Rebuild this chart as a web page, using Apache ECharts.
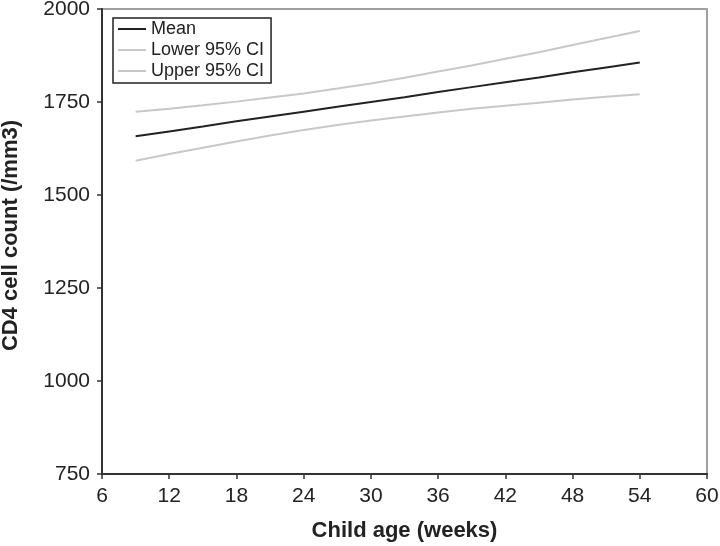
<!DOCTYPE html>
<html>
<head>
<meta charset="utf-8">
<script src="https://cdn.jsdelivr.net/npm/echarts@6/dist/echarts.min.js"></script>
<style>
  html, body { margin: 0; padding: 0; background: #fff; }
  #main { width: 720px; height: 546px; }
</style>
</head>
<body>
<div id="main"></div>
<script>
// child age in weeks
var weeks = [9, 12, 15, 18, 21, 24, 27, 30, 33, 36, 39, 42, 45, 48, 51, 54];
var meanVals  = [1658, 1671, 1684, 1698, 1711, 1724, 1737, 1750, 1763, 1777, 1790, 1803, 1816, 1830, 1843, 1856];
var lowerVals = [1592, 1610, 1627, 1644, 1660, 1675, 1688, 1700, 1711, 1722, 1732, 1740, 1748, 1757, 1764, 1771];
var upperVals = [1724, 1732, 1741, 1751, 1762, 1773, 1786, 1800, 1815, 1832, 1848, 1866, 1884, 1903, 1922, 1941];
var seriesNames = ['Mean', 'Lower 95% CI', 'Upper 95% CI'];

var font = '"Liberation Sans", Arial, Helvetica, sans-serif';

function pairs(vals) {
    return weeks.map(function (w, i) { return [w, vals[i]]; });
}

// plain numbers, no thousands separator
function plain(v) { return String(v); }

var chart = echarts.init(document.getElementById('main'));

var option = {
    animation: false,
    backgroundColor: '#fff',
    textStyle: { fontFamily: font },
    grid: {
        left: 102, right: 13, top: 9, bottom: 72,
        outerBoundsMode: 'none',
        containLabel: false,
        show: true,
        borderColor: '#a0a0a0',
        borderWidth: 2
    },
    legend: {
        orient: 'vertical',
        left: 113,
        top: 18,
        data: seriesNames,
        icon: 'rect',
        borderColor: '#222',
        borderWidth: 1.5,
        padding: [2, 7, 3, 5],
        itemWidth: 28,
        itemHeight: 2,
        itemGap: 3,
        textStyle: { fontSize: 18, color: '#222', fontFamily: font }
    },
    xAxis: {
        type: 'value',
        min: 6, max: 60, interval: 6,
        name: 'Child age (weeks)',
        nameLocation: 'middle',
        nameGap: 46,
        nameTextStyle: { fontSize: 22, fontWeight: 'bold', color: '#222', fontFamily: font },
        axisLine: { show: true, onZero: false, lineStyle: { color: '#333', width: 2 } },
        axisTick: { show: true, length: 5, lineStyle: { color: '#333', width: 1.5 } },
        axisLabel: { fontSize: 21, color: '#222', margin: 12, fontFamily: font, formatter: plain },
        splitLine: { show: false }
    },
    yAxis: {
        type: 'value',
        min: 750, max: 2000, interval: 250,
        name: 'CD4 cell count (/mm3)',
        nameLocation: 'middle',
        nameGap: 80,
        // nudge the title a few px upward like the original
        nameTextStyle: { fontSize: 22, fontWeight: 'bold', color: '#222', fontFamily: font, padding: [0, 0, 0, 12] },
        axisLine: { show: true, onZero: false, lineStyle: { color: '#333', width: 2 } },
        axisTick: { show: true, length: 5, lineStyle: { color: '#333', width: 1.5 } },
        axisLabel: { fontSize: 21, color: '#222', margin: 12, fontFamily: font, formatter: plain },
        splitLine: { show: false }
    },
    series: [
        {
            name: seriesNames[0], type: 'line', symbol: 'none',
            data: pairs(meanVals),
            lineStyle: { color: '#222', width: 2 },
            itemStyle: { color: '#222' }, z: 3
        },
        {
            name: seriesNames[1], type: 'line', symbol: 'none',
            data: pairs(lowerVals),
            lineStyle: { color: '#c8c8c8', width: 2 },
            itemStyle: { color: '#c8c8c8' }
        },
        {
            name: seriesNames[2], type: 'line', symbol: 'none',
            data: pairs(upperVals),
            lineStyle: { color: '#c8c8c8', width: 2 },
            itemStyle: { color: '#c8c8c8' }
        }
    ]
};

chart.setOption(option);
</script>
</body>
</html>
